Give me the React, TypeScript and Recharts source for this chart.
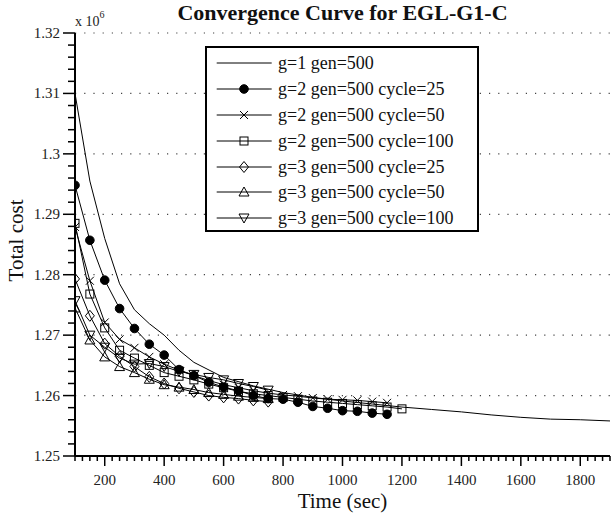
import React from "react";
import {
  LineChart,
  Line,
  XAxis,
  YAxis,
  ReferenceLine,
  Legend,
  Label,
} from "recharts";

// time axis (sec) and total cost (x 10^6)
const g1Time = [100, 150, 200, 250, 300, 350, 400, 450, 500, 600, 700, 800, 900, 1000, 1100, 1200, 1300, 1400, 1500, 1600, 1700, 1800, 1900];
const g1Cost = [1.31, 1.2955, 1.286, 1.2785, 1.2742, 1.2719, 1.27, 1.2675, 1.2655, 1.263, 1.2616, 1.2605, 1.2597, 1.2591, 1.2586, 1.2581, 1.2577, 1.2573, 1.2568, 1.2564, 1.2561, 1.256, 1.2558];

const timeTo1150 = [100, 150, 200, 250, 300, 350, 400, 450, 500, 550, 600, 650, 700, 750, 800, 850, 900, 950, 1000, 1050, 1100, 1150];
const timeTo1200 = [100, 150, 200, 250, 300, 350, 400, 450, 500, 550, 600, 650, 700, 750, 800, 850, 900, 950, 1000, 1050, 1100, 1150, 1200];
const timeTo750 = [100, 150, 200, 250, 300, 350, 400, 450, 500, 550, 600, 650, 700, 750];

const g2c25Cost = [1.2948, 1.2857, 1.2791, 1.2744, 1.2711, 1.2685, 1.2667, 1.2643, 1.2633, 1.2622, 1.2614, 1.2608, 1.26, 1.2595, 1.2594, 1.2589, 1.2582, 1.2579, 1.2575, 1.2574, 1.2571, 1.2569];
const g2c50Cost = [1.2879, 1.279, 1.2721, 1.2693, 1.2679, 1.2664, 1.2652, 1.2642, 1.2633, 1.2625, 1.2618, 1.2613, 1.2608, 1.2604, 1.2601, 1.2599, 1.2596, 1.2594, 1.2593, 1.2592, 1.259, 1.2588];
const g2c100Cost = [1.2885, 1.2768, 1.2712, 1.2675, 1.2662, 1.265, 1.2638, 1.2632, 1.2626, 1.2619, 1.2613, 1.2607, 1.2603, 1.26, 1.2597, 1.2594, 1.2591, 1.2589, 1.2587, 1.2585, 1.2583, 1.2581, 1.2578];
const g3c25Cost = [1.2793, 1.2732, 1.2686, 1.2665, 1.2648, 1.2631, 1.262, 1.2612, 1.2606, 1.26, 1.2597, 1.2595, 1.2592, 1.259];
const g3c50Cost = [1.2745, 1.2692, 1.2664, 1.2648, 1.2638, 1.2627, 1.2618, 1.2614, 1.261, 1.2605, 1.2602, 1.2599, 1.2597, 1.2595];
const g3c100Cost = [1.2757, 1.27, 1.268, 1.2662, 1.2652, 1.2653, 1.2648, 1.264, 1.2635, 1.263, 1.2626, 1.262, 1.2615, 1.2609];

const xLabels = [200, 400, 600, 800, 1000, 1200, 1400, 1600, 1800];
const yMajor = [1.25, 1.26, 1.27, 1.28, 1.29, 1.3, 1.31, 1.32];

const xTicks = Array.from({ length: 73 }, (_, i) => 100 + i * 25);
const yTicks = Array.from({ length: 36 }, (_, i) => Number((1.25 + i * 0.002).toFixed(3)));

type Kind = "none" | "circle" | "cross" | "square" | "diamond" | "up" | "down";

const series: { name: string; time: number[]; cost: number[]; kind: Kind }[] = [
  { name: "g=1 gen=500", time: g1Time, cost: g1Cost, kind: "none" },
  { name: "g=2 gen=500 cycle=25", time: timeTo1150, cost: g2c25Cost, kind: "circle" },
  { name: "g=2 gen=500 cycle=50", time: timeTo1150, cost: g2c50Cost, kind: "cross" },
  { name: "g=2 gen=500 cycle=100", time: timeTo1200, cost: g2c100Cost, kind: "square" },
  { name: "g=3 gen=500 cycle=25", time: timeTo750, cost: g3c25Cost, kind: "diamond" },
  { name: "g=3 gen=500 cycle=50", time: timeTo750, cost: g3c50Cost, kind: "up" },
  { name: "g=3 gen=500 cycle=100", time: timeTo750, cost: g3c100Cost, kind: "down" },
];

const FONT = "'Liberation Serif', 'Times New Roman', serif";

function Marker({ kind, cx, cy }: { kind: Kind; cx: number; cy: number }) {
  switch (kind) {
    case "circle":
      return <circle cx={cx} cy={cy} r={4.3} fill="#000" stroke="#000" />;
    case "cross":
      return (
        <path
          d={`M${cx - 4},${cy - 4}L${cx + 4},${cy + 4}M${cx - 4},${cy + 4}L${cx + 4},${cy - 4}`}
          stroke="#000"
          fill="none"
        />
      );
    case "square":
      return <rect x={cx - 4} y={cy - 4} width={8} height={8} fill="none" stroke="#000" />;
    case "diamond":
      return <path d={`M${cx},${cy - 5.5}L${cx + 4.5},${cy}L${cx},${cy + 5.5}L${cx - 4.5},${cy}Z`} fill="none" stroke="#000" />;
    case "up":
      return <path d={`M${cx},${cy - 5}L${cx + 5},${cy + 4}L${cx - 5},${cy + 4}Z`} fill="none" stroke="#000" />;
    case "down":
      return <path d={`M${cx - 5},${cy - 4}L${cx + 5},${cy - 4}L${cx},${cy + 5}Z`} fill="none" stroke="#000" />;
    default:
      return null;
  }
}

function XTick(props: any) {
  const { x, y, payload } = props;
  const v = payload.value;
  const major = v % 200 === 0;
  return (
    <g>
      <line x1={x} x2={x} y1={y} y2={y + (major ? 10 : 5)} stroke="#000" strokeWidth={1.5} />
      {xLabels.includes(v) && (
        <text x={x} y={y + 29} textAnchor="middle" fontSize={15} fontFamily={FONT} fill="#222">
          {v}
        </text>
      )}
    </g>
  );
}

function YTick(props: any) {
  const { x, y, payload } = props;
  const v = payload.value;
  const major = yMajor.some((m) => Math.abs(m - v) < 1e-6);
  return (
    <g>
      <line x1={x} x2={x - (major ? 12 : 7)} y1={y} y2={y} stroke="#000" strokeWidth={1.5} />
      {major && (
        <text x={x - 15} y={y + 5} textAnchor="end" fontSize={15} fontFamily={FONT} fill="#222">
          {String(v)}
        </text>
      )}
    </g>
  );
}

function LegendBox() {
  return (
    <div
      style={{
        position: "relative",
        width: 274,
        height: 186,
        boxSizing: "border-box",
        border: "2px solid #000",
        background: "#fff",
        fontFamily: FONT,
      }}
    >
      {series.map((s, i) => (
        <div key={s.name} style={{ position: "absolute", left: 0, top: 2.3 + i * 25.8, height: 26, width: "100%" }}>
          <svg width={57} height={26} style={{ position: "absolute", left: 9, top: 0 }}>
            <line x1={0.7} x2={55.7} y1={13} y2={13} stroke="#000" strokeWidth={1} />
            <Marker kind={s.kind} cx={28} cy={13} />
          </svg>
          <span
            style={{
              position: "absolute",
              left: 71,
              top: 0,
              lineHeight: "26px",
              fontSize: 18,
              whiteSpace: "nowrap",
              color: "#111",
            }}
          >
            {s.name}
          </span>
        </div>
      ))}
    </div>
  );
}

export default function App() {
  return (
    <div style={{ position: "absolute", left: 0, top: 0, width: 611, height: 515, background: "#fff", fontFamily: FONT }}>
      <div
        style={{
          position: "absolute",
          left: 75,
          width: 535,
          top: 1,
          textAlign: "center",
          fontSize: 22,
          lineHeight: "24px",
          fontWeight: "bold",
          color: "#111",
          whiteSpace: "nowrap",
        }}
      >
        Convergence Curve for EGL-G1-C
      </div>
      <div style={{ position: "absolute", left: 75, top: 14, fontSize: 14, lineHeight: "16px", color: "#222" }}>
        x 10<span style={{ position: "relative", top: -8, fontSize: 10 }}>6</span>
      </div>
      <div style={{ position: "absolute", left: 0, top: 0 }}>
        <LineChart width={611} height={515} margin={{ top: 33, right: 1, bottom: 0, left: 0 }}>
          <XAxis
            type="number"
            dataKey="x"
            domain={[100, 1900]}
            ticks={xTicks}
            interval={0}
            allowDataOverflow
            height={59}
            tickSize={0}
            tickMargin={0}
            tick={<XTick />}
            axisLine={{ stroke: "#000", strokeWidth: 2 }}
            tickLine={false}
          >
            <Label
              content={(p: any) => {
                const vb = p.viewBox || { x: 75, y: 456, width: 535 };
                return (
                  <text x={vb.x + vb.width / 2} y={vb.y + 52} textAnchor="middle" fontSize={21} fontFamily={FONT} fill="#111">
                    Time (sec)
                  </text>
                );
              }}
            />
          </XAxis>
          <YAxis
            type="number"
            domain={[1.25, 1.32]}
            ticks={yTicks}
            interval={0}
            allowDataOverflow
            width={75}
            tickSize={0}
            tickMargin={0}
            tick={<YTick />}
            axisLine={{ stroke: "#000", strokeWidth: 2 }}
            tickLine={false}
          >
            <Label
              content={(p: any) => {
                const vb = p.viewBox || { x: 0, y: 33, height: 423 };
                const cy = vb.y + vb.height / 2 - 4;
                return (
                  <text
                    x={16}
                    y={cy}
                    transform={`rotate(-90, 16, ${cy})`}
                    textAnchor="middle"
                    dominantBaseline="central"
                    fontSize={21}
                    fontFamily={FONT}
                    fill="#111"
                  >
                    Total cost
                  </text>
                );
              }}
            />
          </YAxis>
          {yMajor.slice(1).map((v) => (
            <ReferenceLine key={v} y={v} stroke="#444" strokeWidth={1.2} strokeDasharray="1.2 8" />
          ))}
          {series.map((s) => (
            <Line
              key={s.name}
              name={s.name}
              data={s.time.map((t, i) => ({ x: t, y: s.cost[i] }))}
              dataKey="y"
              type="linear"
              stroke="#000"
              strokeWidth={1}
              isAnimationActive={false}
              legendType="none"
              dot={
                s.kind === "none"
                  ? false
                  : (p: any) => <Marker key={`${s.kind}-${p.index}`} kind={s.kind} cx={p.cx} cy={p.cy} />
              }
              activeDot={false}
            />
          ))}
          <Legend
            layout="vertical"
            align="center"
            verticalAlign="middle"
            content={() => <LegendBox />}
            wrapperStyle={{ position: "absolute", left: 205, top: 46, width: 274, height: 186 }}
          />
        </LineChart>
      </div>
    </div>
  );
}
